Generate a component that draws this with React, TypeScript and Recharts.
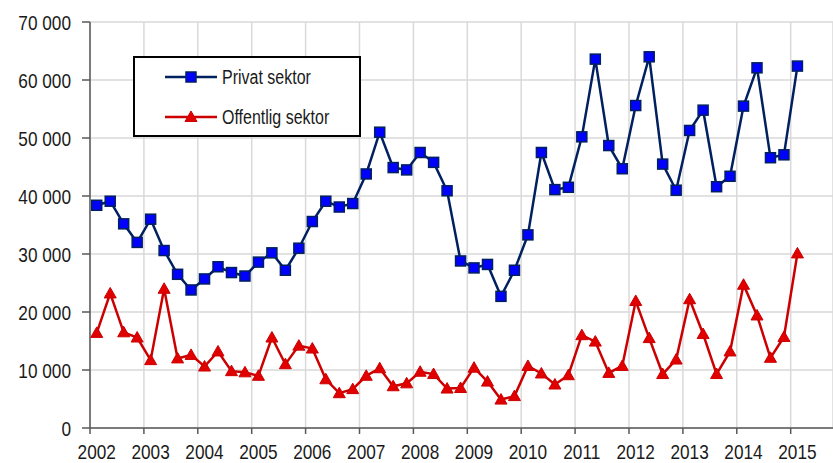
import React from "react";
import { LineChart, Line, XAxis, YAxis, CartesianGrid } from "recharts";

const yearLabels = ["2002","2003","2004","2005","2006","2007","2008","2009","2010","2011","2012","2013","2014","2015"];

const privatSektor = [
  38400, 39100, 35200, 32000, 36000, 30600, 26500, 23800,
  25700, 27800, 26800, 26200, 28600, 30200, 27200, 31000,
  35600, 39100, 38100, 38700, 43800, 51000, 44900, 44500,
  47500, 45800, 40900, 28800, 27600, 28200, 22700, 27200,
  33300, 47500, 41100, 41500, 50200, 63600, 48700, 44700,
  55600, 64000, 45500, 41000, 51300, 54800, 41600, 43400,
  55500, 62100, 46600, 47100, 62400,
];

const offentligSektor = [
  16400, 23200, 16500, 15600, 11700, 24000, 12000, 12600,
  10600, 13200, 9800, 9600, 9000, 15600, 11000, 14200,
  13700, 8400, 6000, 6700, 9000, 10300, 7200, 7700,
  9700, 9300, 6800, 6900, 10400, 8000, 4900, 5500,
  10700, 9400, 7500, 9100, 16000, 14900, 9500, 10700,
  21900, 15500, 9300, 11800, 22200, 16200, 9300, 13200,
  24700, 19400, 12100, 15700, 30100,
];

const yTicks = [0, 10000, 20000, 30000, 40000, 50000, 60000, 70000];

const data = privatSektor.map((p, i) => ({ i, privat: p, offentlig: offentligSektor[i] }));
const yearTicks = yearLabels.map((_, k) => -0.5 + 4 * k);

const FONT = "'Liberation Sans', Arial, sans-serif";
const SX = 0.82;
const NAVY = "#002060";
const BLUE = "#0000ff";
const RED = "#cc0000";
const RED_FILL = "#e00000";

const fmt = (v: number) => (v === 0 ? "0" : `${v / 1000} 000`);

const NarrowText = ({ x, y, anchor, size, dy, children }: any) => (
  <g transform={`translate(${x},${y})`}>
    <text transform={`scale(${SX},1)`} x={0} y={0} dy={dy} textAnchor={anchor} fill="#1a1a1a" fontSize={size} fontFamily={FONT}>
      {children}
    </text>
  </g>
);

const YearTick = (props: any) => {
  const { x, y, index } = props;
  return (
    <NarrowText x={x + 6.7} y={y} anchor="middle" size={21} dy="0.72em">
      {yearLabels[index]}
    </NarrowText>
  );
};

const ValueTick = (props: any) => {
  const { x, y, payload } = props;
  return (
    <NarrowText x={x} y={y} anchor="end" size={21} dy="0.36em">
      {fmt(payload.value)}
    </NarrowText>
  );
};

const SquareDot = (props: any) => {
  const { cx, cy } = props;
  if (cx == null || cy == null) return null;
  return <rect x={cx - 5} y={cy - 5} width={10} height={10} fill={BLUE} stroke={NAVY} strokeWidth={1.5} />;
};

const TriDot = (props: any) => {
  const { cx, cy } = props;
  if (cx == null || cy == null) return null;
  return (
    <polygon
      points={`${cx},${cy - 6} ${cx - 6},${cy + 4.5} ${cx + 6},${cy + 4.5}`}
      fill={RED_FILL}
      stroke={RED}
      strokeWidth={1}
    />
  );
};

const LegendBox = () => (
  <div
    style={{
      position: "absolute",
      left: 133,
      top: 56,
      width: 228,
      height: 81,
      border: "2px solid #000",
      boxSizing: "border-box",
      background: "#fff",
    }}
  >
    <svg width={224} height={77} style={{ position: "absolute", left: 0, top: 0 }}>
      <line x1={30} y1={19} x2={82} y2={19} stroke={NAVY} strokeWidth={2.5} />
      <rect x={51} y={14} width={10} height={10} fill={BLUE} stroke={NAVY} strokeWidth={1.5} />
      <NarrowText x={87} y={19} anchor="start" size={19.5} dy="0.36em">Privat sektor</NarrowText>
      <line x1={30} y1={59} x2={82} y2={59} stroke={RED} strokeWidth={2.5} />
      <polygon points="56,53 50,63.5 62,63.5" fill={RED_FILL} stroke={RED} strokeWidth={1} />
      <NarrowText x={87} y={59} anchor="start" size={19.5} dy="0.36em">Offentlig sektor</NarrowText>
    </svg>
  </div>
);

export default function App() {
  return (
    <div style={{ position: "absolute", left: 0, top: 0, width: 833, height: 463, background: "#fff" }}>
      <LineChart width={833} height={463} data={data} margin={{ top: 22, right: 0, bottom: 0, left: 0 }}>
        <CartesianGrid stroke="#d9d9d9" strokeWidth={1.5} />
        <XAxis
          type="number"
          dataKey="i"
          domain={[-0.5, 54.64]}
          ticks={yearTicks}
          interval={0}
          allowDataOverflow
          height={35}
          tickSize={6}
          tickMargin={10}
          stroke="#595959"
          strokeWidth={1.5}
          tick={<YearTick />}
        />
        <YAxis
          type="number"
          domain={[0, 70000]}
          ticks={yTicks}
          interval={0}
          width={90}
          tickSize={8}
          tickMargin={11}
          stroke="#595959"
          strokeWidth={1.5}
          tick={<ValueTick />}
        />
        <Line
          type="linear"
          dataKey="offentlig"
          stroke={RED}
          strokeWidth={2.5}
          dot={<TriDot />}
          activeDot={false}
          isAnimationActive={false}
        />
        <Line
          type="linear"
          dataKey="privat"
          stroke={NAVY}
          strokeWidth={2.5}
          dot={<SquareDot />}
          activeDot={false}
          isAnimationActive={false}
        />
      </LineChart>
      <LegendBox />
    </div>
  );
}
